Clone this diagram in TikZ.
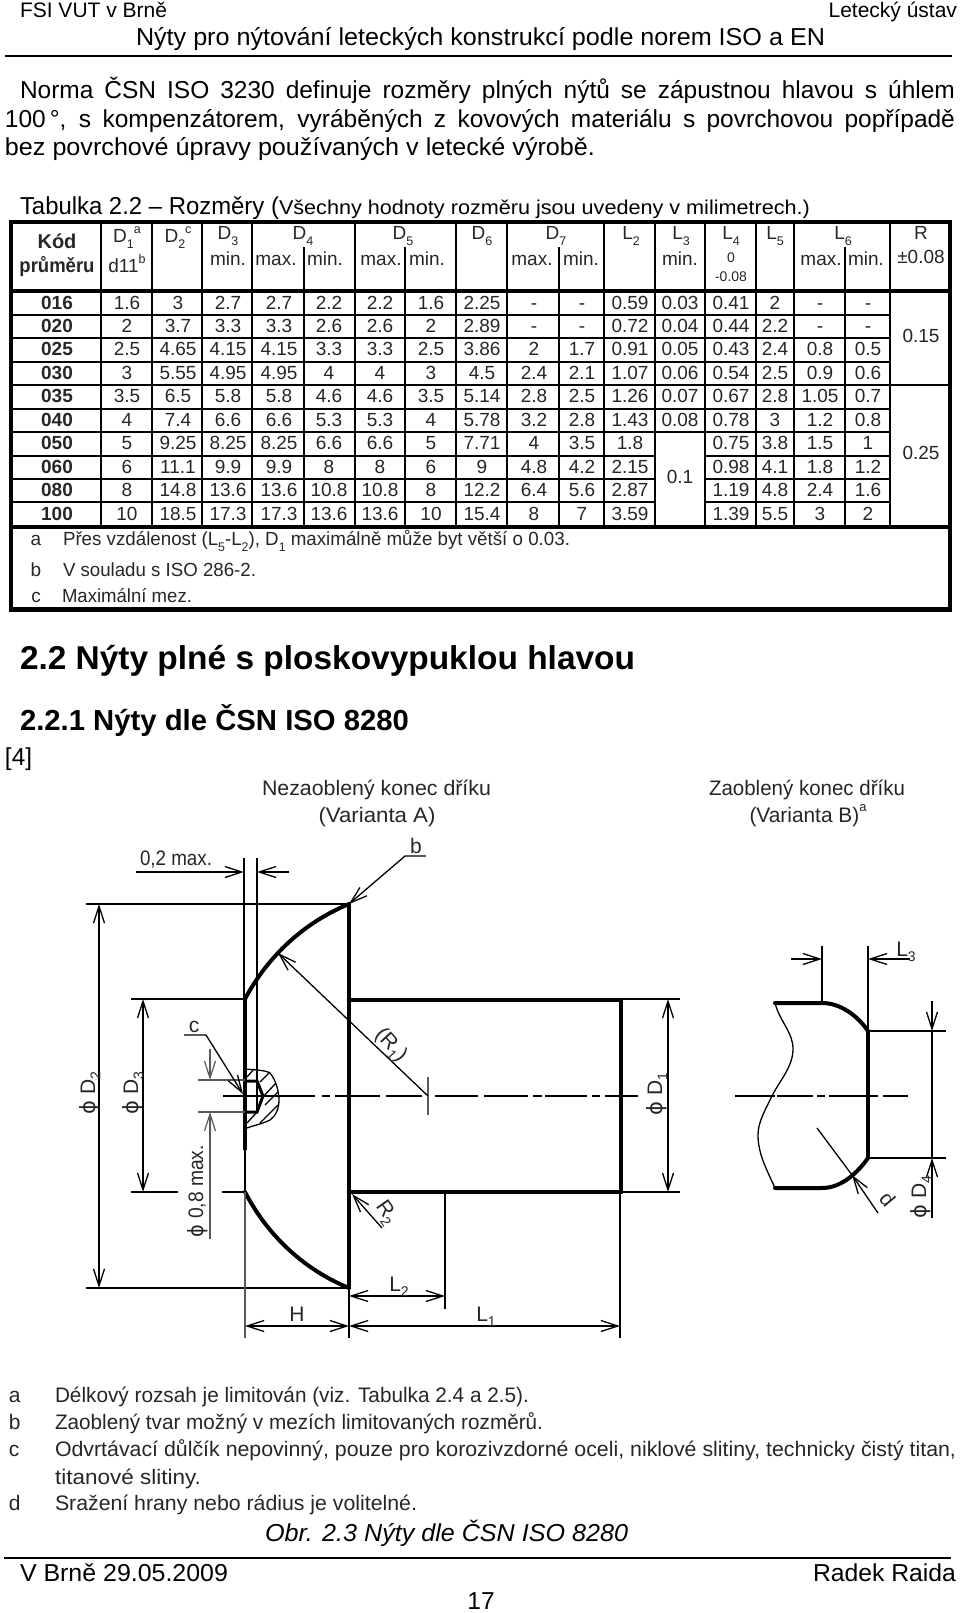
\documentclass[tikz,border=0pt]{standalone}
\usepackage{fontspec}
\usepackage{graphicx}
\setmainfont{Liberation Sans}
\newfontfamily\djv{DejaVu Sans}
\usetikzlibrary{arrows.meta}
\newcommand\fw[2]{\resizebox{#1pt}{\height}{#2}}
\newcommand\fsz[1]{\fontsize{#1}{#1}\selectfont}
\newcommand\dsub[1]{\raisebox{-0.3em}{\fsz{12.5}#1}}
\newcommand\dsup[1]{\raisebox{0.5em}{\fsz{12.5}#1}}
\newcommand\isub[1]{\raisebox{-0.25em}{\fsz{14}#1}}
\newcommand\fii{{\djv ϕ}}
\tikzset{
  txt/.style={inner sep=0pt,outer sep=0pt},
  lft/.style={txt,anchor=mid west},
  rgt/.style={txt,anchor=mid east},
  mdl/.style={txt,anchor=mid},
  page/.style={font=\fsz{24.5},yshift=-5pt},
  small/.style={font=\fsz{21},yshift=-4pt},
  cell/.style={mdl,font=\fsz{19},text=black!85,yshift=-3pt},
  note/.style={lft,font=\fsz{19},text=black!85,yshift=-3pt},
  iso/.style={font=\fsz{21},text=black!85,yshift=-5pt},
  lab/.style={mdl,font=\fsz{21},text=black!85,yshift=-4pt},
  rlab/.style={mdl,font=\fsz{21},text=black!85,xshift=3.5pt},
  frame/.style={line width=4.5pt},
  grid/.style={line width=2.1pt},
  outl/.style={line width=4pt},
  thinl/.style={line width=1.3pt},
  greyl/.style={line width=1.2pt,draw=black!65},
  dt/.tip={Straight Barb[length=17pt,width=11pt]}
}
\begin{document}
\begin{tikzpicture}[x=1pt,y=-1pt]
\useasboundingbox (0,0) rectangle (960,1613);
% page header
\node[lft,small] (h1) at (20,11) {FSI VUT v Brně};
\node[rgt,small] (h2) at (957,11) {Letecký ústav};
\node[lft,page] (h3) at (136,38) {\fw{689}{Nýty pro nýtování leteckých konstrukcí podle norem ISO a EN}};
\draw[line width=2pt] (5,56) -- (952,56);
% body text
\node[lft,page] (b1) at (20,91) {\makebox[935pt][s]{Norma ČSN ISO 3230 definuje rozměry plných nýtů se zápustnou hlavou s úhlem}};
\node[lft,page] (b2) at (5,120) {\makebox[950pt][s]{100\,°, s kompenzátorem, vyráběných z kovových materiálu s povrchovou popřípadě}};
\node[lft,page] (b3) at (5,148) {\fw{590}{bez povrchové úpravy používaných v letecké výrobě.}};
\node[lft,page] (b4) at (20,207) {\fw{259}{Tabulka 2.2 – Rozměry (}};
\node[lft,small,font=\fsz{20}] (b5) at (279,208) {\fw{531}{Všechny hodnoty rozměru jsou uvedeny v milimetrech.)}};
% table lines
\draw[frame] (11,222) rectangle (950,609.5);
\foreach \xx in {101,152,202,252,355,456,507,604,655,705,756,794,890}{\draw[grid] (\xx,224) -- (\xx,527);}
\foreach \xx in {304,405,559,845}{\draw[grid] (\xx,247) -- (\xx,527);}
\draw[line width=3.6pt] (13,291) -- (948,291);
\draw[line width=4pt] (13,527) -- (948,527);
\foreach \yy in {315,338,362,385,409,432}{\draw[grid] (13,\yy) -- (890,\yy);}
\foreach \yy in {456,479,502}{\draw[grid] (13,\yy) -- (655,\yy);\draw[grid] (705,\yy) -- (890,\yy);}
\draw[grid] (890,385) -- (948,385);
% table header
\node[cell,font=\fsz{20}\bfseries] (k1) at (57,243) {Kód};
\node[cell,font=\fsz{20}\bfseries] (k2) at (57,267) {\fw{75}{průměru}};
\node[cell] (t1) at (127,237) {D\dsub{1}\dsup{a}};
\node[cell] (t2) at (127,267) {d11\dsup{b}};
\node[cell] (t3) at (178,237) {D\dsub{2}\dsup{c}};
\node[cell] (t4) at (228,234) {D\dsub{3}};
\node[cell] (t5) at (228,260) {min.};
\node[cell] (t6) at (303,234) {D\dsub{4}};
\node[cell] (t7) at (276,260) {max.};
\node[cell] (t8) at (325,260) {min.};
\node[cell] (t9) at (403,234) {D\dsub{5}};
\node[cell] (t10) at (381,260) {max.};
\node[cell] (t11) at (427,260) {min.};
\node[cell] (t12) at (482,234) {D\dsub{6}};
\node[cell] (t13) at (556,234) {D\dsub{7}};
\node[cell] (t14) at (532,260) {max.};
\node[cell] (t15) at (581,260) {min.};
\node[cell] (t16) at (631,234) {L\dsub{2}};
\node[cell] (t17) at (681,234) {L\dsub{3}};
\node[cell] (t18) at (680,260) {min.};
\node[cell] (t19) at (731,234) {L\dsub{4}};
\node[cell,font=\fsz{14}] (t20) at (731,257) {0};
\node[cell,font=\fsz{14}] (t21) at (731,276) {-0.08};
\node[cell] (t22) at (775,234) {L\dsub{5}};
\node[cell] (t23) at (843,234) {L\dsub{6}};
\node[cell] (t24) at (821,260) {max.};
\node[cell] (t25) at (866,260) {min.};
\node[cell] (t26) at (921,234) {R};
\node[cell] (t27) at (921,258) {±0.08};
\node[cell] (t28) at (921,337) {0.15};
\node[cell] (t29) at (921,454) {0.25};
\node[cell] (t30) at (680,478) {0.1};
% table rows
\foreach \yy/\rowvals [count=\rr] in {
 304/{016,1.6,3,2.7,2.7,2.2,2.2,1.6,2.25,-,-,0.59,0.03,0.41,2,-,-},
 327/{020,2,3.7,3.3,3.3,2.6,2.6,2,2.89,-,-,0.72,0.04,0.44,2.2,-,-},
 350/{025,2.5,4.65,4.15,4.15,3.3,3.3,2.5,3.86,2,1.7,0.91,0.05,0.43,2.4,0.8,0.5},
 374/{030,3,5.55,4.95,4.95,4,4,3,4.5,2.4,2.1,1.07,0.06,0.54,2.5,0.9,0.6},
 397/{035,3.5,6.5,5.8,5.8,4.6,4.6,3.5,5.14,2.8,2.5,1.26,0.07,0.67,2.8,1.05,0.7},
 421/{040,4,7.4,6.6,6.6,5.3,5.3,4,5.78,3.2,2.8,1.43,0.08,0.78,3,1.2,0.8},
 444/{050,5,9.25,8.25,8.25,6.6,6.6,5,7.71,4,3.5,1.8,,0.75,3.8,1.5,1},
 468/{060,6,11.1,9.9,9.9,8,8,6,9,4.8,4.2,2.15,,0.98,4.1,1.8,1.2},
 491/{080,8,14.8,13.6,13.6,10.8,10.8,8,12.2,6.4,5.6,2.87,,1.19,4.8,2.4,1.6},
 515/{100,10,18.5,17.3,17.3,13.6,13.6,10,15.4,8,7,3.59,,1.39,5.5,3,2}}{
  \foreach \cv [count=\ii from 0] in \rowvals {
    \pgfmathsetmacro\xx{{57,127,178,228,279,329,380,431,482,534,582,630,680,731,775,820,868}[\ii]}
    \ifx\cv\empty\else
      \node[cell] (c\rr-\ii) at (\xx,\yy) {\ifnum\ii=0 \bfseries\fi\cv};
    \fi
  }
}
% table notes
\node[cell] (n1) at (36,540) {a};
\node[note] (n2) at (63,540) {\fw{507}{Přes vzdálenost (L\dsub{5}-L\dsub{2}), D\dsub{1} maximálně může byt větší o 0.03.}};
\node[cell] (n3) at (36,571) {b};
\node[note] (n4) at (63,571) {\fw{193}{V souladu s ISO 286-2.}};
\node[cell] (n5) at (36,597) {c};
\node[note] (n6) at (62,597) {\fw{130}{Maximální mez.}};
% headings
\node[lft,font=\fsz{33}\bfseries,yshift=-9pt] (s1) at (20,658) {\fw{615}{2.2 Nýty plné s ploskovypuklou hlavou}};
\node[lft,font=\fsz{29}\bfseries,yshift=-8pt] (s2) at (20,720) {\fw{389}{2.2.1 Nýty dle ČSN ISO 8280}};
\node[lft,page] (s3) at (5,758) {\fw{27}{[4]}};
% drawing titles
\node[lft,iso] (d1) at (262,788) {\fw{229}{Nezaoblený konec dříku}};
\node[mdl,iso] (d2) at (377,815) {\fw{117}{(Varianta A)}};
\node[lft,iso] (d3) at (709,788) {\fw{196}{Zaoblený konec dříku}};
\node[mdl,iso] (d4) at (808,815) {\fw{117}{(Varianta B)\raisebox{0.55em}{\fsz{13}a}}};
% rivet outline
\draw[line width=4.5pt] (349,904) -- (349,1288);
\draw[outl,line cap=round] (245,999) .. controls (267.7,956.2) and (304.2,922.4) .. (349,904);
\draw[outl,line cap=round] (245,1192) .. controls (267.7,1235.8) and (304.2,1269.6) .. (349,1288);
\draw[outl] (245,999) -- (245,1150);
\draw[line width=2.8pt] (245,1150) -- (245,1192);
\draw[outl] (351,1000) -- (621,1000) (351,1192) -- (621,1192);
\draw[line width=4.5pt] (621,998) -- (621,1194);
% detail of centre drill
\draw[line width=3pt] (245,1081) -- (257,1081) -- (263,1096) -- (257,1112) -- (245,1112);
\draw[line width=2.2pt] (257,1081) -- (257,1112);
\draw[thinl] (245,1069) .. controls (255,1070) and (265,1070) .. (270,1073) .. controls (276,1080) and (279,1092) .. (279,1100) .. controls (279,1108) and (276,1116) .. (270,1120) .. controls (262,1124) and (255,1125) .. (247,1128);
\draw[thinl] (247,1077) -- (254,1069) (260,1082) -- (270,1072) (262,1098) -- (276,1083) (265,1105) -- (278,1092) (247,1123) -- (257,1112) (260,1123) -- (278,1105);
% axis
\foreach \aa/\bb in {223/315,322/330,335/380,386/422,435/478,484/528,533/542,545/587,592/600,605/638,735/775,777/813,817/825,829/867,870/878,883/908}{\draw[line width=1.4pt] (\aa,1096) -- (\bb,1096);}
\draw[greyl] (428,1077) -- (428,1115);
% extension lines
\draw[thinl] (244,858) -- (244,999) (257,858) -- (257,1081);
\draw[thinl] (86,904) -- (349,904) (86,1288) -- (349,1288);
\draw[thinl] (131,999) -- (245,999) (131,1192) -- (178,1192) (222,1192) -- (245,1192);
\draw[greyl] (198,1080) -- (245,1080) (198,1112) -- (245,1112);
\draw[greyl] (245,1192) -- (245,1338);
\draw[thinl] (349,1288) -- (349,1338) (445,1192) -- (445,1309) (620,1192) -- (620,1338);
\draw[thinl] (621,999) -- (680,999) (621,1192) -- (680,1192);
% dimensions, head
\draw[thinl,-{dt}] (136,872) -- (244,872);
\draw[thinl,-{dt}] (289,872) -- (257,872);
\draw[thinl,{dt}-{dt}] (99,904) -- (99,1288);
\draw[thinl,{dt}-{dt}] (143,999) -- (143,1192);
\draw[greyl,-{dt}] (210,1049) -- (210,1080);
\draw[greyl,-{dt}] (210,1239) -- (210,1112);
\draw[thinl,{dt}-{dt}] (245,1326) -- (349,1326);
\draw[thinl,{dt}-{dt}] (349,1326) -- (620,1326);
\draw[thinl,{dt}-{dt}] (349,1296) -- (445,1296);
\draw[thinl,{dt}-{dt}] (668,999) -- (668,1192);
% leaders
\draw[thinl,-{dt}] (426,856) -- (405,856) -- (349,904);
\draw[thinl,-{dt}] (184,1035) -- (206,1035) -- (243,1094);
\draw[thinl,-{dt}] (428,1096) -- (278,953);
\draw[thinl,-{dt}] (382,1228) -- (352,1194);
% stem end detail
\draw[outl,line cap=round] (775,1003) -- (822,1003) .. controls (840,1003) and (857,1015) .. (868,1031);
\draw[line width=4.5pt] (868,1031) -- (868,1158);
\draw[outl,line cap=round] (868,1158) .. controls (858,1172) and (842,1188) .. (822,1188) -- (775,1188);
\draw[thinl] (775,1003) .. controls (780,1022) and (793,1032) .. (793,1049) .. controls (793,1068) and (778,1082) .. (770,1100) .. controls (763,1114) and (758,1124) .. (758,1135) .. controls (758,1155) and (768,1172) .. (775,1188);
\draw[thinl] (822,946) -- (822,1003) (868,946) -- (868,1031);
\draw[thinl,-{dt}] (791,959) -- (822,959);
\draw[thinl,-{dt}] (910,959) -- (868,959);
\draw[thinl] (868,1031) -- (946,1031) (868,1158) -- (946,1158);
\draw[thinl,-{dt}] (932,1001) -- (932,1031);
\draw[thinl] (932,1158) -- (932,1031);
\draw[thinl,-{dt}] (932,1218) -- (932,1158);
\draw[thinl] (817,1128) -- (852,1175);
\draw[thinl,-{dt}] (878,1213) -- (852,1175);
% drawing labels
\node[lab,anchor=mid west] (l1) at (140,859) {\fw{72}{0,2 max.}};
\node[lab] (l2) at (416,847) {b};
\node[lab] (l3) at (194,1026) {c};
\node[rlab,rotate=90] (l4) at (89,1093) {\fii\ D\isub{2}};
\node[rlab,rotate=90] (l5) at (132,1093) {\fii\ D\isub{3}};
\node[rlab,rotate=90] (l6) at (197,1191) {\fw{92}{\fii\ 0,8 max.}};
\node[rlab,rotate=90] (l7) at (656,1094) {\fii\ D\isub{1}};
\node[rlab,rotate=90] (l8) at (920,1197) {\fii\ D\isub{4}};
\node[mdl,font=\fsz{21},text=black!85,rotate=-47,yshift=-3pt] (l9) at (391,1045) {(R\isub{1})};
\node[mdl,font=\fsz{21},text=black!85,rotate=-55] (l10) at (384,1214) {R\isub{2}};
\node[lab] (l11) at (399,1285) {L\isub{2}};
\node[lab] (l12) at (297,1315) {H};
\node[lab] (l13) at (486,1315) {L\isub{1}};
\node[lab] (l14) at (906,950) {L\isub{3}};
\node[mdl,font=\fsz{21},text=black!85,rotate=-50] (l15) at (884,1202) {d};
% notes under drawing
\node[lft,iso] (f1) at (9,1395) {a};
\node[lft,iso] (f2) at (55,1395) {\fw{474}{Délkový rozsah je limitován (viz. Tabulka 2.4 a 2.5).}};
\node[lft,iso] (f3) at (9,1422) {b};
\node[lft,iso] (f4) at (55,1422) {\fw{488}{Zaoblený tvar možný v mezích limitovaných rozměrů.}};
\node[lft,iso] (f5) at (9,1449) {c};
\node[lft,iso] (f6) at (55,1449) {\fw{901}{Odvrtávací důlčík nepovinný, pouze pro korozivzdorné oceli, niklové slitiny, technicky čistý titan,}};
\node[lft,iso] (f7) at (55,1477) {\fw{146}{titanové slitiny.}};
\node[lft,iso] (f8) at (9,1503) {d};
\node[lft,iso] (f9) at (55,1503) {\fw{362}{Sražení hrany nebo rádius je volitelné.}};
% caption and footer
\node[lft,page,font=\fsz{24.5}\itshape] (o1) at (265,1534) {\fw{363}{Obr. 2.3 Nýty dle ČSN ISO 8280}};
\draw[line width=2.2pt] (4,1558) -- (951,1558);
\node[lft,page] (o2) at (20,1574) {\fw{208}{V Brně 29.05.2009}};
\node[rgt,page] (o3) at (956,1574) {\fw{143}{Radek Raida}};
\node[mdl,page] (o4) at (481,1602) {17};
\end{tikzpicture}
\end{document}
